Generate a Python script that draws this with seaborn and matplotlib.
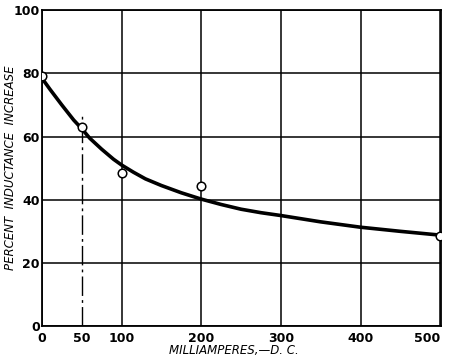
import matplotlib
matplotlib.use('Agg')
import matplotlib.pyplot as plt
import seaborn as sns
import pandas as pd

point_ma = [0, 50, 100, 200, 500]
point_pct = [79, 63, 48.5, 44.5, 28.5]

# smooth curve
curve_ma = [0, 10, 25, 40, 50, 60, 75, 90, 100, 115, 130, 150, 175, 200, 225, 250,
            275, 300, 350, 400, 450, 500]
curve_pct = [78.5, 75, 70, 65.2, 62.5, 59.5, 56, 52.8, 51, 48.7, 46.6, 44.5, 42.2, 40.2,
             38.5, 37, 35.9, 35, 33, 31.3, 30, 28.8]

x_ticks = [0, 50, 100, 200, 300, 400, 500]
y_ticks = [0, 20, 40, 60, 80, 100]

sns.set_style('white')
plt.rcParams['font.family'] = ['DejaVu Sans']

fig = plt.figure(figsize=(4.5, 3.6), dpi=100)
ax = fig.add_axes([0.093, 0.094, 0.887, 0.878])

# grid lines (the one at 50 only runs up to about 67 and is broken)
for xv in x_ticks:
    if xv == 50:
        ax.axvline(xv, ymax=0.67, color='black', lw=1.0, ls=(0, (14, 3, 2, 3)))
    else:
        ax.axvline(xv, color='black', lw=1.1)
for yv in y_ticks:
    ax.axhline(yv, color='black', lw=1.1)

curve = pd.DataFrame({'ma': curve_ma, 'pct': curve_pct})
pts = pd.DataFrame({'ma': point_ma, 'pct': point_pct})
sns.lineplot(data=curve, x='ma', y='pct', color='black', lw=2.6, ax=ax, zorder=3)
sns.scatterplot(data=pts, x='ma', y='pct', marker='o', s=38, facecolor='white',
                edgecolor='black', linewidth=1.1, ax=ax, zorder=4)

ax.set_xlim(0, 501)
ax.set_ylim(0, 100)
ax.set_xticks(x_ticks)
ax.set_yticks(y_ticks)
ax.tick_params(length=0, labelsize=9, labelcolor='black')
ax.tick_params(axis='x', pad=4)
ax.tick_params(axis='y', pad=1.5)
for lbl in ax.get_xticklabels() + ax.get_yticklabels():
    lbl.set_fontweight('bold')
ax.get_xticklabels()[-1].set_horizontalalignment('right')
for s in ax.spines.values():
    s.set_color('black')
    s.set_linewidth(1.3)

ax.set_xlabel('MILLIAMPERES,\u2014D. C.', fontsize=8.5, style='italic', color='black')
ax.set_ylabel('PERCENT  INDUCTANCE  INCREASE', fontsize=8.5, style='italic', color='black')
ax.xaxis.set_label_coords(0.48, -0.056)
ax.yaxis.set_label_coords(-0.063, 0.5)

fig.savefig('out.png', dpi=100)
